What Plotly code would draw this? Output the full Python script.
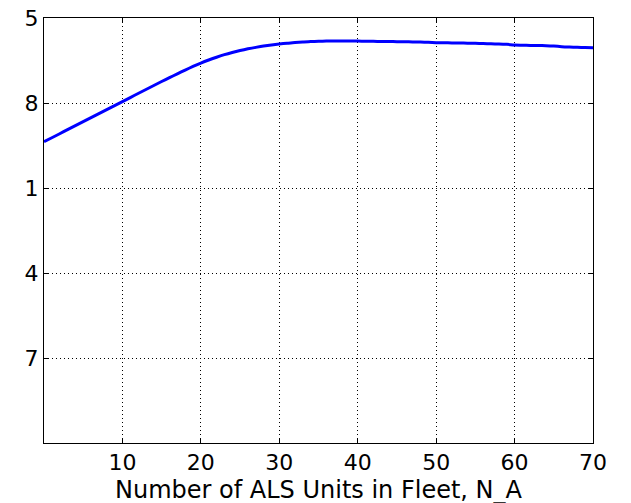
import plotly.graph_objects as go

# Fleet size (number of ALS units)
n_als = list(range(0, 71))

# Performance measure for each fleet size
performance = [
    0.2481, 0.2514, 0.2547, 0.2581, 0.2614, 0.2647, 0.2680, 0.2713, 0.2746, 0.2779,
    0.2812, 0.2845, 0.2878, 0.2911, 0.2944, 0.2977, 0.3009, 0.3040, 0.3071, 0.3101,
    0.3129, 0.3154, 0.3177, 0.3198, 0.3216, 0.3232, 0.3246, 0.3258, 0.3269, 0.3278,
    0.3286, 0.3292, 0.3298, 0.3302, 0.3306, 0.3308, 0.3310, 0.3311, 0.3311, 0.3310,
    0.3310, 0.3309, 0.3308, 0.3307, 0.3306, 0.3305, 0.3304, 0.3303, 0.3302, 0.3300,
    0.3297, 0.3296, 0.3295, 0.3294, 0.3293, 0.3292, 0.3289, 0.3287, 0.3286, 0.3283,
    0.3278, 0.3276, 0.3274, 0.3273, 0.3272, 0.3269, 0.3264, 0.3261, 0.3259, 0.3257,
    0.3255,
]

x_tick_vals = [0, 10, 20, 30, 40, 50, 60, 70]
x_tick_text = ["", "10", "20", "30", "40", "50", "60", "70"]
y_tick_vals = [0.0, 0.07, 0.14, 0.21, 0.28, 0.35]
y_tick_text = ["", "7", "4", "1", "8", "5"]
x_title = "Number of ALS Units in Fleet, N_A"

fig = go.Figure()
fig.add_trace(go.Scatter(
    x=n_als, y=performance, mode="lines",
    line=dict(color="#0000ff", width=3, shape="spline", smoothing=0.6),
    showlegend=False,
))

axis_common = dict(
    showline=True, linecolor="black", linewidth=1, mirror="ticks",
    ticks="inside", ticklen=5, tickcolor="black", tickwidth=1,
    showgrid=True, gridcolor="black", gridwidth=1, griddash="1px,3px",
    zeroline=False, automargin=False,
    tickfont=dict(family="DejaVu Sans", size=22, color="black"),
)

fig.update_xaxes(
    range=[0, 70], tickmode="array", tickvals=x_tick_vals, ticktext=x_tick_text,
    **axis_common,
)
fig.update_yaxes(
    range=[0, 0.35], tickmode="array", tickvals=y_tick_vals, ticktext=y_tick_text,
    **axis_common,
)

# x-axis title placed as a paper annotation below the tick labels
fig.add_annotation(
    text=x_title, xref="paper", yref="paper", x=0.5, y=0,
    xanchor="center", yanchor="top", yshift=-31, showarrow=False,
    font=dict(family="DejaVu Sans", size=24, color="black"),
)

fig.update_layout(
    width=631, height=503,
    margin=dict(l=44, r=38, t=18, b=60),
    paper_bgcolor="white", plot_bgcolor="white",
)

fig.write_html("out.html")
